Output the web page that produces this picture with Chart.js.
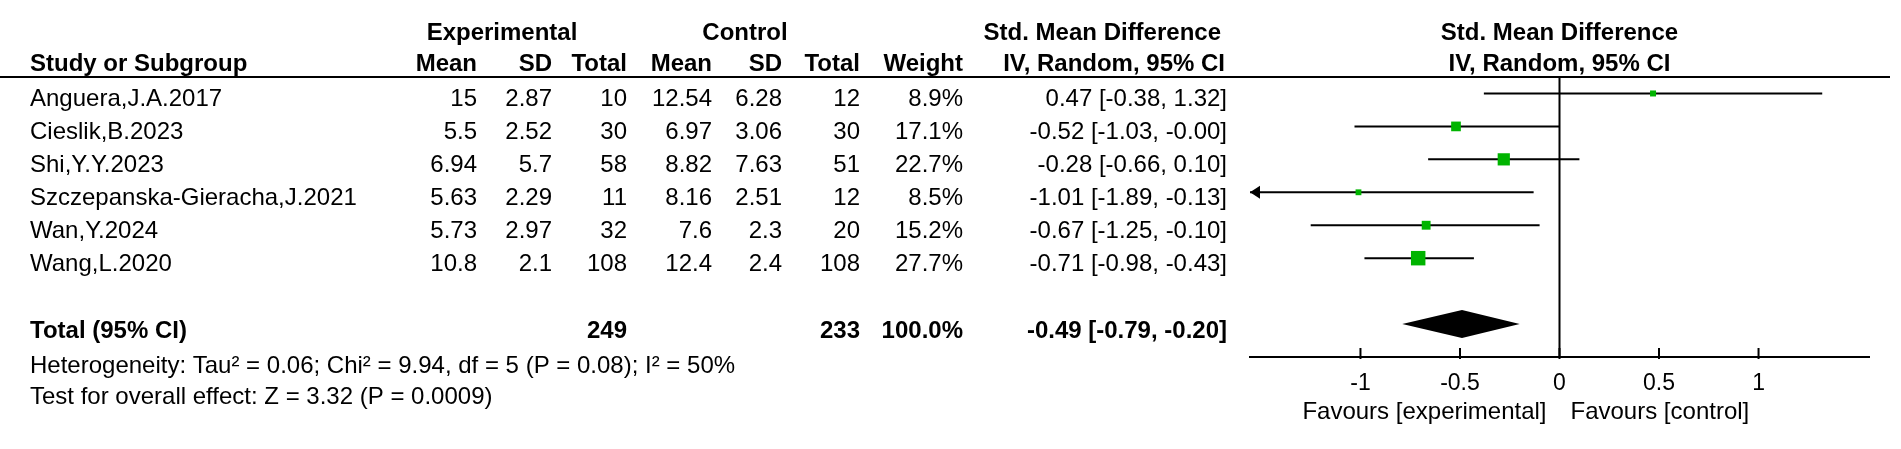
<!DOCTYPE html>
<html>
<head>
<meta charset="utf-8">
<script src="https://cdn.jsdelivr.net/npm/chart.js@4.4.1/dist/chart.umd.min.js"></script>
<style>
  html, body { margin: 0; padding: 0; background: #fff; }
  #wrap { width: 1901px; height: 449px; position: relative; }
</style>
</head>
<body>
<div id="wrap"><canvas id="forest"></canvas></div>
<script>
// Forest plot data
const studies = ['Anguera,J.A.2017', 'Cieslik,B.2023', 'Shi,Y.Y.2023', 'Szczepanska-Gieracha,J.2021', 'Wan,Y.2024', 'Wang,L.2020'];
const expMean = [15, 5.5, 6.94, 5.63, 5.73, 10.8];
const expSD = [2.87, 2.52, 5.7, 2.29, 2.97, 2.1];
const expTotal = [10, 30, 58, 11, 32, 108];
const ctlMean = [12.54, 6.97, 8.82, 8.16, 7.6, 12.4];
const ctlSD = [6.28, 3.06, 7.63, 2.51, 2.3, 2.4];
const ctlTotal = [12, 30, 51, 12, 20, 108];
const weights = [8.9, 17.1, 22.7, 8.5, 15.2, 27.7];
const smd = [0.47, -0.52, -0.28, -1.01, -0.67, -0.71];
const ciLow = [-0.38, -1.03, -0.66, -1.89, -1.25, -0.98];
const ciHigh = [1.32, -0.00, 0.10, -0.13, -0.10, -0.43];

const totalExp = 249;
const totalCtl = 233;
const totalWeight = 100.0;
const pooled = [-0.49, -0.79, -0.20]; // estimate, low, high
const totalRow = 7;

const tickVals = [-1, -0.5, 0, 0.5, 1];
const heteroText = 'Heterogeneity: Tau\u00b2 = 0.06; Chi\u00b2 = 9.94, df = 5 (P = 0.08); I\u00b2 = 50%';
const effectText = 'Test for overall effect: Z = 3.32 (P = 0.0009)';
const favLeft = 'Favours [experimental]';
const favRight = 'Favours [control]';

const GREEN = '#00b400';
const FONT = '"Liberation Sans", Arial, sans-serif';

function fmt2(v) {
  const neg = v < 0 || Object.is(v, -0);
  return (neg ? '-' : '') + Math.abs(v).toFixed(2);
}
function ciLabel(e, l, h) {
  return fmt2(e) + ' [' + fmt2(l) + ', ' + fmt2(h) + ']';
}

// column right edges (px)
const col = { study: 30, eMean: 477, eSD: 552, eN: 627, cMean: 712, cSD: 782, cN: 860, w: 963, ci: 1227 };

function txt(ctx, s, x, y, opt) {
  opt = opt || {};
  ctx.save();
  ctx.font = (opt.bold ? 'bold ' : '') + (opt.size || 24) + 'px ' + FONT;
  ctx.fillStyle = '#000';
  ctx.textBaseline = 'middle';
  ctx.textAlign = opt.align || 'left';
  ctx.fillText(s, x, y);
  ctx.restore();
}

const tablePlugin = {
  id: 'forestTable',
  afterDraw(chart) {
    const ctx = chart.ctx;
    const xs = chart.scales.x, ys = chart.scales.y;
    const area = chart.chartArea;
    const x0 = xs.getPixelForValue(0);
    const yAxis = area.bottom;

    // header
    const h1 = 33, h2 = 64;
    txt(ctx, 'Experimental', 502, h1, { bold: true, align: 'center' });
    txt(ctx, 'Control', 745, h1, { bold: true, align: 'center' });
    txt(ctx, 'Std. Mean Difference', 1221, h1, { bold: true, align: 'right' });
    txt(ctx, 'Std. Mean Difference', x0, h1, { bold: true, align: 'center' });
    txt(ctx, 'Study or Subgroup', col.study, h2, { bold: true });
    [['Mean', col.eMean], ['SD', col.eSD], ['Total', col.eN], ['Mean', col.cMean], ['SD', col.cSD], ['Total', col.cN], ['Weight', col.w]]
      .forEach(([s, x]) => txt(ctx, s, x, h2, { bold: true, align: 'right' }));
    txt(ctx, 'IV, Random, 95% CI', 1225, h2, { bold: true, align: 'right' });
    txt(ctx, 'IV, Random, 95% CI', x0, h2, { bold: true, align: 'center' });

    ctx.save();
    ctx.strokeStyle = '#000';
    ctx.lineWidth = 2;
    ctx.beginPath();
    ctx.moveTo(0, area.top);
    ctx.lineTo(1890, area.top);
    ctx.stroke();
    ctx.restore();

    // study rows
    studies.forEach((s, i) => {
      const y = ys.getPixelForValue(i) + 6;
      const num = { align: 'right' };
      txt(ctx, s, col.study, y);
      txt(ctx, String(expMean[i]), col.eMean, y, num);
      txt(ctx, String(expSD[i]), col.eSD, y, num);
      txt(ctx, String(expTotal[i]), col.eN, y, num);
      txt(ctx, String(ctlMean[i]), col.cMean, y, num);
      txt(ctx, String(ctlSD[i]), col.cSD, y, num);
      txt(ctx, String(ctlTotal[i]), col.cN, y, num);
      txt(ctx, weights[i].toFixed(1) + '%', col.w, y, num);
      txt(ctx, ciLabel(smd[i], ciLow[i], ciHigh[i]), col.ci, y, num);
    });

    // total row
    const yt = ys.getPixelForValue(totalRow) + 7;
    txt(ctx, 'Total (95% CI)', col.study, yt, { bold: true });
    txt(ctx, String(totalExp), col.eN, yt, { bold: true, align: 'right' });
    txt(ctx, String(totalCtl), col.cN, yt, { bold: true, align: 'right' });
    txt(ctx, totalWeight.toFixed(1) + '%', col.w, yt, { bold: true, align: 'right' });
    txt(ctx, ciLabel(pooled[0], pooled[1], pooled[2]), col.ci, yt, { bold: true, align: 'right' });

    txt(ctx, heteroText, col.study, 366);
    txt(ctx, effectText, col.study, 397);

    // zero line
    ctx.save();
    ctx.strokeStyle = '#000';
    ctx.lineWidth = 2;
    ctx.beginPath();
    ctx.moveTo(x0, area.top);
    ctx.lineTo(x0, yAxis);
    ctx.stroke();

    // tick marks (upward)
    tickVals.forEach(v => {
      const px = xs.getPixelForValue(v);
      ctx.beginPath();
      ctx.moveTo(px, yAxis - 9);
      ctx.lineTo(px, yAxis + 2);
      ctx.stroke();
    });

    // arrows for CIs beyond the axis
    studies.forEach((s, i) => {
      const y = ys.getPixelForValue(i);
      ctx.fillStyle = '#000';
      if (ciLow[i] < xs.min) {
        ctx.beginPath();
        ctx.moveTo(area.left, y);
        ctx.lineTo(area.left + 10, y - 6.5);
        ctx.lineTo(area.left + 10, y + 6.5);
        ctx.closePath();
        ctx.fill();
      }
      if (ciHigh[i] > xs.max) {
        ctx.beginPath();
        ctx.moveTo(area.right, y);
        ctx.lineTo(area.right - 10, y - 6.5);
        ctx.lineTo(area.right - 10, y + 6.5);
        ctx.closePath();
        ctx.fill();
      }
    });

    // pooled diamond
    const yd = ys.getPixelForValue(totalRow);
    const dh = 14;
    ctx.beginPath();
    ctx.moveTo(xs.getPixelForValue(pooled[1]), yd);
    ctx.lineTo(xs.getPixelForValue(pooled[0]), yd - dh);
    ctx.lineTo(xs.getPixelForValue(pooled[2]), yd);
    ctx.lineTo(xs.getPixelForValue(pooled[0]), yd + dh);
    ctx.closePath();
    ctx.fill();
    ctx.restore();

    // favours labels
    txt(ctx, favLeft, x0 - 13, 412, { align: 'right' });
    txt(ctx, favRight, x0 + 11, 412, { align: 'left' });
  }
};

const ciDatasets = studies.map((s, i) => ({
  type: 'line',
  label: s,
  data: [{ x: ciLow[i], y: i }, { x: ciHigh[i], y: i }],
  borderColor: '#000',
  borderWidth: 2,
  pointRadius: 0,
  fill: false,
  order: 2
}));

const squareDataset = {
  type: 'scatter',
  label: 'SMD',
  data: smd.map((v, i) => ({ x: v, y: i })),
  pointStyle: 'rect',
  pointRadius: weights.map(w => (w * 0.45 + 2) / 1.414),
  backgroundColor: GREEN,
  borderColor: GREEN,
  borderWidth: 0,
  order: 1
};

new Chart(document.getElementById('forest'), {
  type: 'scatter',
  data: { datasets: [...ciDatasets, squareDataset] },
  options: {
    responsive: true,
    maintainAspectRatio: false,
    animation: false,
    layout: { padding: { left: 1250, right: 32, top: 77, bottom: 52 } },
    plugins: { legend: { display: false }, tooltip: { enabled: false } },
    scales: {
      x: {
        type: 'linear',
        min: -1.555,
        max: 1.555,
        afterBuildTicks: scale => { scale.ticks = tickVals.map(v => ({ value: v })); },
        afterFit: scale => { scale.height = 40; },
        grid: { display: true, drawOnChartArea: false, drawTicks: false },
        border: { display: true, color: '#000', width: 2 },
        ticks: {
          color: '#000',
          padding: 13,
          font: { family: FONT, size: 23 },
          maxRotation: 0,
          autoSkip: false,
          callback: v => String(v)
        }
      },
      y: {
        type: 'linear',
        display: false,
        reverse: true,
        min: -0.5,
        max: 8
      }
    }
  },
  plugins: [tablePlugin]
});
</script>
</body>
</html>
